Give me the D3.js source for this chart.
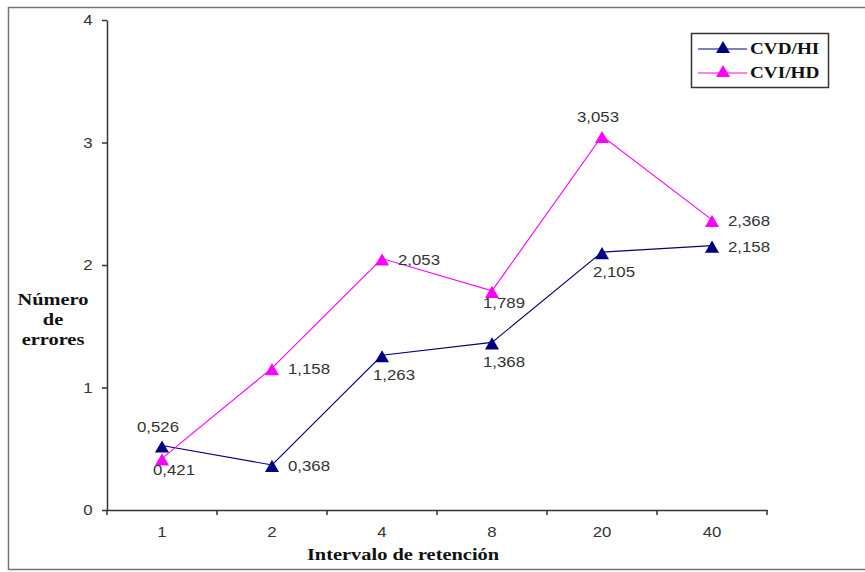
<!DOCTYPE html>
<html><head><meta charset="utf-8">
<script src="https://cdn.jsdelivr.net/npm/d3@7"></script>
<style>body{margin:0;background:#fff}svg{display:block}</style>
</head><body>
<script>
const categories = ["1","2","4","8","20","40"];
const seriesNames = ["CVD/HI","CVI/HD"];
const cvdHI = [0.526,0.368,1.263,1.368,2.105,2.158];
const cviHD = [0.421,1.158,2.053,1.789,3.053,2.368];
const yTicks = [0,1,2,3,4];
const colors = ["#000080","#ff00ff"];
// label placement per point: a=above, b=below, r=right
const posHI = ["a","r","b","b","b","r"];
const posHD = ["b","r","r","b","a","r"];

const W=865,H=572, SX=1.2;
const sans="Liberation Sans, Arial", serif="Liberation Serif, Times New Roman";
const svg=d3.select("body").append("svg").attr("width",W).attr("height",H);
svg.append("rect").attr("x",8.5).attr("y",7.5).attr("width",W).attr("height",562)
  .attr("fill","none").attr("stroke","#777").attr("stroke-width",1.5);

function txt(g,x,y,s,opt){
  const t=g.append("text").attr("transform",`translate(${x},${y}) scale(${SX},1)`)
    .attr("font-family",opt.family||sans).attr("font-size",opt.size||14)
    .attr("font-weight",opt.weight||"normal").attr("fill",opt.fill||"#333")
    .attr("text-anchor",opt.anchor||"middle").text(s);
  return t;
}

const x=d3.scaleBand().domain(categories).range([107,767]);
const y=d3.scaleLinear().domain([0,4]).range([510,20]);

const xAxis=svg.append("g").attr("transform","translate(0,510)")
  .call(d3.axisBottom(x).tickSize(0).tickFormat(""));
xAxis.select(".domain").attr("stroke","#333").attr("stroke-width",1.5);
categories.forEach(c=>txt(svg,x(c)+x.bandwidth()/2,537,c,{}));
const bounds=categories.map(c=>x(c)).concat([x.range()[1]]);
svg.append("g").selectAll("line").data(bounds).join("line")
  .attr("x1",d=>d).attr("x2",d=>d).attr("y1",510).attr("y2",515)
  .attr("stroke","#333").attr("stroke-width",1.5);

const yAxis=svg.append("g").attr("transform","translate(107,0)")
  .call(d3.axisLeft(y).tickValues(yTicks).tickFormat("").tickSize(5).tickSizeOuter(0));
yAxis.select(".domain").attr("stroke","#333").attr("stroke-width",1.5);
yAxis.selectAll(".tick line").attr("stroke","#333").attr("stroke-width",1.5);
yTicks.forEach(v=>txt(svg,88,y(v)+5,String(v),{}));

const fmt=v=>d3.format(".3f")(v).replace(".",",");
const tri=d3.symbol().type(d3.symbolTriangle).size(85);

function drawSeries(vals,col,pos){
  const cx=i=>x(categories[i])+x.bandwidth()/2;
  const line=d3.line().x((d,i)=>cx(i)).y(d=>y(d));
  svg.append("path").datum(vals).attr("d",line).attr("fill","none").attr("stroke",col).attr("stroke-width",1.1);
  svg.append("g").selectAll("path").data(vals).join("path").attr("d",tri)
    .attr("transform",(d,i)=>`translate(${cx(i)},${y(d)+3})`).attr("fill",col);
  const g=svg.append("g");
  vals.forEach((d,i)=>{
    const p=pos[i];
    if(p==="r") txt(g,cx(i)+16,y(d)+6,fmt(d),{anchor:"start"});
    else if(p==="a") txt(g,cx(i)-4,y(d)-14,fmt(d),{});
    else txt(g,cx(i)+12,y(d)+(col===colors[0]?25:17),fmt(d),{});
  });
}
drawSeries(cvdHI,colors[0],posHI);
drawSeries(cviHD,colors[1],posHD);

// axis titles
["Número","de","errores"].forEach((t,i)=>txt(svg,53,305+i*20,t,{family:serif,size:17,weight:"bold",fill:"#111"}));
txt(svg,403,560,"Intervalo de retención",{family:serif,size:17,weight:"bold",fill:"#111"});

// legend
const lg=svg.append("g");
lg.append("rect").attr("x",691.5).attr("y",33.5).attr("width",137).attr("height",54)
  .attr("fill","#fff").attr("stroke","#333").attr("stroke-width",1.5);
seriesNames.forEach((n,i)=>{
  const yy=49+i*24;
  lg.append("line").attr("x1",698).attr("x2",747).attr("y1",yy).attr("y2",yy).attr("stroke",colors[i]).attr("stroke-width",1.1);
  lg.append("path").attr("d",tri).attr("transform",`translate(723,${yy})`).attr("fill",colors[i]);
  txt(lg,750,yy+5,n,{family:serif,size:16,weight:"bold",fill:"#111",anchor:"start"});
});
</script>
</body></html>
